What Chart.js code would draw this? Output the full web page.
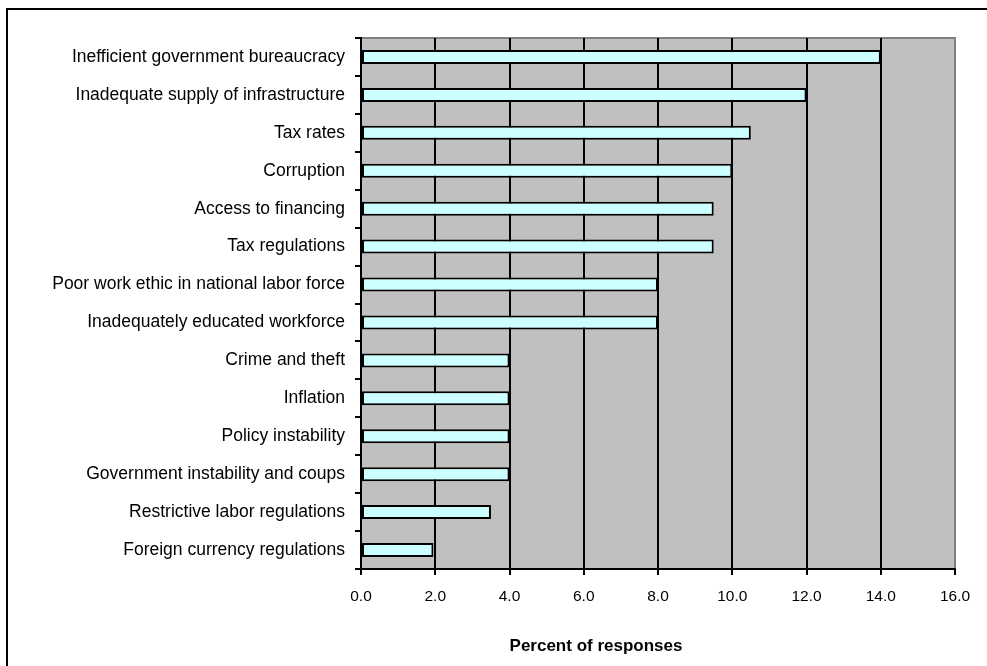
<!DOCTYPE html>
<html>
<head>
<meta charset="utf-8">
<script src="https://cdn.jsdelivr.net/npm/chart.js@4/dist/chart.umd.min.js"></script>
<style>
  html, body { margin:0; padding:0; background:#fff; overflow:hidden; }
  #wrap { position:relative; width:987px; height:666px; }
  #frame { position:absolute; left:6px; top:8px; width:2000px; height:2000px;
           border-left:2px solid #000; border-top:2px solid #000; box-sizing:border-box; }
  canvas { position:absolute; left:0; top:0; }
</style>
</head>
<body>
<div id="wrap">
  <div id="frame"></div>
  <canvas id="c" width="987" height="666"></canvas>
</div>
<script>
const categories = [
  "Inefficient government bureaucracy",
  "Inadequate supply of infrastructure",
  "Tax rates",
  "Corruption",
  "Access to financing",
  "Tax regulations",
  "Poor work ethic in national labor force",
  "Inadequately educated workforce",
  "Crime and theft",
  "Inflation",
  "Policy instability",
  "Government instability and coups",
  "Restrictive labor regulations",
  "Foreign currency regulations"
];
const percentValues = [14.0, 12.0, 10.5, 10.0, 9.5, 9.5, 8.0, 8.0, 4.0, 4.0, 4.0, 4.0, 3.5, 1.95];
const xAxisTitle = "Percent of responses";
const xMin = 0, xMax = 16, xStep = 2;

const plotBg = {
  id: 'plotBg',
  beforeDraw(chart) {
    const {ctx, chartArea:a} = chart;
    ctx.save();
    ctx.fillStyle = '#C0C0C0';
    ctx.fillRect(a.left, a.top, a.right - a.left, a.bottom - a.top);
    ctx.strokeStyle = '#808080';
    ctx.lineWidth = 2;
    ctx.beginPath();
    ctx.moveTo(a.left, a.top);
    ctx.lineTo(a.right, a.top);
    ctx.lineTo(a.right, a.bottom);
    ctx.stroke();
    ctx.restore();
  },
  afterDraw(chart) {
    const {ctx} = chart;
    ctx.save();
    ctx.fillStyle = '#000';
    ctx.font = 'bold 17px "Liberation Sans", Arial, sans-serif';
    ctx.textAlign = 'center';
    ctx.textBaseline = 'middle';
    ctx.fillText(xAxisTitle, 596, 646);
    ctx.restore();
  }
};

new Chart(document.getElementById('c'), {
  type: 'bar',
  data: {
    labels: categories,
    datasets: [{
      data: percentValues,
      backgroundColor: '#CCFFFF',
      borderColor: '#000000',
      borderWidth: 2,
      borderSkipped: false,
      barPercentage: 0.37,
      categoryPercentage: 1.0
    }]
  },
  options: {
    indexAxis: 'y',
    responsive: false,
    animation: false,
    devicePixelRatio: 1,
    layout: { padding: { top: 38, right: 32, bottom: 0, left: 0 } },
    plugins: { legend: { display: false }, tooltip: { enabled: false } },
    scales: {
      x: {
        min: xMin, max: xMax,
        afterFit(s) { s.height = 97; },
        ticks: {
          stepSize: xStep,
          padding: 12,
          color: '#000',
          maxRotation: 0,
          font: { family: '"Liberation Sans", Arial, sans-serif', size: 15.5 },
          callback: v => Number(v).toFixed(1)
        },
        grid: {
          color: c => (c.tick && c.tick.value === xMax) ? '#808080' : '#000',
          lineWidth: 2,
          tickLength: 6,
          tickColor: '#000',
          drawTicks: true
        },
        border: { display: true, color: '#000', width: 2 }
      },
      y: {
        afterFit(s) { s.width = 361; },
        ticks: {
          padding: 10,
          color: '#000',
          autoSkip: false,
          font: { family: '"Liberation Sans", Arial, sans-serif', size: 17.5 }
        },
        grid: {
          offset: true,
          drawOnChartArea: false,
          tickLength: 6,
          tickColor: '#000',
          lineWidth: 2
        },
        border: { display: true, color: '#000', width: 2 }
      }
    }
  },
  plugins: [plotBg]
});
</script>
</body>
</html>
